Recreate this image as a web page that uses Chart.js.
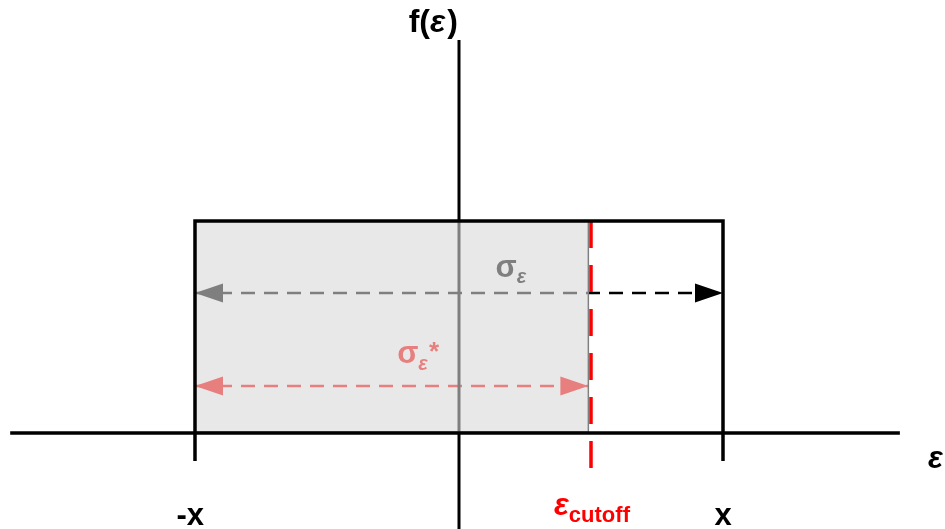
<!DOCTYPE html>
<html><head><meta charset="utf-8">
<script src="https://cdn.jsdelivr.net/npm/chart.js@4"></script>
<style>html,body{margin:0;padding:0;background:#fff;overflow:hidden}</style>
</head><body>
<canvas id="c" width="945" height="529"></canvas>
<script>
// ---- data (diagram coordinates: ε in units of x, f(ε) in units of the density height) ----
const X_LIMITS = [-1, 1];            // -x and x
const CUTOFF = 0.5;                  // ε_cutoff
const BOX_RIGHT = 0.49;              // right edge of the shaded (truncated) region
const DENSITY = 1;                   // f(ε) of the uniform density
const SIGMA_LEVEL = 0.66;            // height of the σε arrow
const SIGMA_STAR_LEVEL = 0.222;      // height of the σε* arrow
const AXIS_X_RANGE = [-1.70, 1.67];  // horizontal axis extent
const AXIS_Y_RANGE = [-0.46, 1.854]; // vertical axis extent
const TICK_DEPTH = -0.132;           // tick marks below the axis
const CUTOFF_DEPTH = -0.175;         // cutoff line end below the axis
const tickLabels = ['-x', 'x'];
const tickValues = [-1, 1];
const VIEW_X = [-1.7386, 1.8409];
const VIEW_Y = [-0.4528, 2.0425];

const FONT = '"Liberation Sans", Arial, sans-serif';

function pts(xs, ys) { return xs.map((x, i) => ({x, y: ys[i]})); }

const datasets = [
  { label: 'y-axis', data: pts([0, 0], AXIS_Y_RANGE), borderColor: '#000', borderWidth: 3, order: 10 },
  { label: 'sigma', data: pts([X_LIMITS[0], X_LIMITS[1]], [SIGMA_LEVEL, SIGMA_LEVEL]),
    borderColor: '#000', borderWidth: 2.5, borderDash: [14, 9], arrowHeads: [true, true], arrowColor: '#000', order: 10 },
  { label: 'sigmaStar', data: pts([X_LIMITS[0], BOX_RIGHT], [SIGMA_STAR_LEVEL, SIGMA_STAR_LEVEL]),
    borderColor: '#ff0000', borderWidth: 2.5, borderDash: [14, 9], arrowHeads: [true, true], arrowColor: '#ff0000', order: 10 },
  { label: 'shade', data: pts([X_LIMITS[0], BOX_RIGHT], [DENSITY, DENSITY]),
    borderWidth: 0, borderColor: 'rgba(0,0,0,0)', fill: 'origin', backgroundColor: 'rgba(216,216,216,0.59)', order: 5 },
  { label: 'shadeEdge', data: pts([BOX_RIGHT, BOX_RIGHT, X_LIMITS[0]], [DENSITY, 0.004, 0.004]),
    borderColor: '#808080', borderWidth: 1.5, order: 4 },
  { label: 'x-axis', data: pts(AXIS_X_RANGE, [0, 0]), borderColor: '#000', borderWidth: 3.5, order: 1 },
  { label: 'density', data: pts([X_LIMITS[0], X_LIMITS[0], X_LIMITS[1], X_LIMITS[1]], [TICK_DEPTH, DENSITY, DENSITY, TICK_DEPTH]),
    borderColor: '#000', borderWidth: 3.5, order: 1 },
  { label: 'cutoff', data: pts([CUTOFF, CUTOFF], [DENSITY, CUTOFF_DEPTH]),
    borderColor: '#ff0000', borderWidth: 3.5, borderDash: [27, 17], order: 1 }
].map(d => Object.assign({ showLine: true, pointRadius: 0, fill: d.fill || false, tension: 0 }, d));

const arrowPlugin = {
  id: 'arrows',
  afterDatasetDraw(chart, args) {
    const ds = chart.data.datasets[args.index];
    if (!ds.arrowHeads) return;
    const p = args.meta.data;
    const ctx = chart.ctx;
    const head = (tip, from) => {
      const a = Math.atan2(tip.y - from.y, tip.x - from.x);
      const L = 28, W = 9.5;
      ctx.save();
      ctx.translate(tip.x, tip.y);
      ctx.rotate(a);
      ctx.beginPath();
      ctx.moveTo(0, 0);
      ctx.lineTo(-L, -W);
      ctx.lineTo(-L, W);
      ctx.closePath();
      ctx.fillStyle = ds.arrowColor;
      ctx.fill();
      ctx.restore();
    };
    if (ds.arrowHeads[0]) head(p[0], p[1]);
    if (ds.arrowHeads[1]) head(p[p.length - 1], p[p.length - 2]);
  }
};

function drawRich(ctx, parts, x, y, align) {
  let w = 0;
  parts.forEach(pt => { ctx.font = pt.font; pt.w = ctx.measureText(pt.text).width; w += pt.w + (pt.gap || 0); });
  let cx = align === 'center' ? x - w / 2 : align === 'right' ? x - w : x;
  ctx.textBaseline = 'alphabetic';
  ctx.textAlign = 'left';
  parts.forEach(pt => {
    ctx.font = pt.font; ctx.fillStyle = pt.color;
    ctx.fillText(pt.text, cx + (pt.gap || 0), y + (pt.dy || 0));
    cx += pt.w + (pt.gap || 0);
  });
}

const labelPlugin = {
  id: 'labels',
  beforeDatasetsDraw(chart) {
    const ctx = chart.ctx, xs = chart.scales.x, ys = chart.scales.y;
    ctx.save();
    // σε label (under the shaded overlay)
    drawRich(ctx, [
      { text: 'σ', font: 'bold 31px ' + FONT, color: '#000' },
      { text: 'ε', font: 'italic bold 20px ' + FONT, color: '#000', dy: 6, gap: 0 }
    ], xs.getPixelForValue(0.197), ys.getPixelForValue(0.736), 'center');
    // σε* label
    drawRich(ctx, [
      { text: 'σ', font: 'bold 31px ' + FONT, color: '#ff0000' },
      { text: 'ε', font: 'italic bold 20px ' + FONT, color: '#ff0000', dy: 7, gap: 0 },
      { text: '*', font: 'bold 26px ' + FONT, color: '#ff0000', dy: -3, gap: 1 }
    ], xs.getPixelForValue(-0.155), ys.getPixelForValue(0.33), 'center');
    ctx.restore();
  },
  afterDraw(chart) {
    const ctx = chart.ctx, xs = chart.scales.x, ys = chart.scales.y;
    ctx.save();
    const base = ys.getPixelForValue(-0.434);
    // tick labels
    drawRich(ctx, [{ text: tickLabels[0], font: 'bold 31px ' + FONT, color: '#000' }],
      xs.getPixelForValue(tickValues[0]) + 9, base, 'right');
    drawRich(ctx, [{ text: tickLabels[1], font: 'bold 31px ' + FONT, color: '#000' }],
      xs.getPixelForValue(tickValues[1]), base, 'center');
    // ε_cutoff
    drawRich(ctx, [
      { text: 'ε', font: 'italic bold 31px ' + FONT, color: '#ff0000' },
      { text: 'cutoff', font: 'bold 22px ' + FONT, color: '#ff0000', dy: 7 }
    ], xs.getPixelForValue(CUTOFF) + 1, ys.getPixelForValue(-0.387), 'center');
    // axis titles
    drawRich(ctx, [{ text: 'ε', font: 'italic bold 31px ' + FONT, color: '#000' }],
      xs.getPixelForValue(1.805), ys.getPixelForValue(-0.165), 'center');
    drawRich(ctx, [
      { text: 'f(', font: 'bold 32px ' + FONT, color: '#000' },
      { text: 'ε', font: 'italic bold 32px ' + FONT, color: '#000' },
      { text: ')', font: 'bold 32px ' + FONT, color: '#000', gap: 2 }
    ], xs.getPixelForValue(0) - 1, ys.getPixelForValue(1.892), 'right');
    ctx.restore();
  }
};

new Chart(document.getElementById('c'), {
  type: 'scatter',
  data: { datasets },
  options: {
    responsive: false,
    animation: false,
    devicePixelRatio: 1,
    layout: { padding: 0 },
    plugins: { legend: { display: false }, tooltip: { enabled: false }, filler: { propagate: false } },
    scales: {
      x: { type: 'linear', min: VIEW_X[0], max: VIEW_X[1], display: false },
      y: { type: 'linear', min: VIEW_Y[0], max: VIEW_Y[1], display: false }
    },
    elements: { line: { borderCapStyle: 'butt' } }
  },
  plugins: [arrowPlugin, labelPlugin]
});
</script>
</body></html>
